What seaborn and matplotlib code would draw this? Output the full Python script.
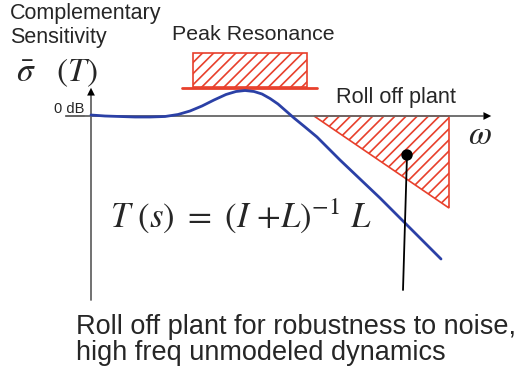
import matplotlib
matplotlib.use('Agg')
import matplotlib.pyplot as plt
import seaborn as sns
import pandas as pd
from matplotlib.patches import Rectangle, Polygon, Circle

# blue T(s) curve (pixel space, y down)
curve_x = [91, 105, 120, 135, 150, 165, 178, 190, 202, 214, 226, 236, 245, 254, 262, 270, 278, 286, 294, 305, 317, 340, 380, 410, 441]
curve_y = [115, 116, 116.5, 117, 117, 116.5, 114.5, 111, 106, 100, 94.5, 91.5, 90.5, 91.5, 94, 98.5, 104, 111, 118, 127, 137, 160, 198, 228, 259]

peak_box = [193, 53, 307, 87]          # x0, y0, x1, y1
peak_line = [182, 317, 88]
rolloff_tri_x = [314, 449, 449]
rolloff_tri_y = [116, 116, 208]

red = '#E8402C'
blue = '#2B40A6'
grey = '#666666'

sns.set_theme(style='white')
plt.rcParams['font.family'] = ['Liberation Sans', 'DejaVu Sans']
plt.rcParams['mathtext.fontset'] = 'stix'
plt.rcParams['hatch.linewidth'] = 1.2
plt.rcParams['hatch.color'] = red

fig = plt.figure(figsize=(5.26, 3.73), dpi=100)
ax = fig.add_axes([0, 0, 1, 1])

# axes with arrows
ax.plot([91, 91], [300, 95], color=grey, lw=1.3)
ax.annotate('', xy=(91, 85), xytext=(91, 97),
            arrowprops=dict(arrowstyle='-|>', color='black', lw=0, mutation_scale=14))
ax.plot([66, 483], [116, 116], color=grey, lw=1.3)
ax.annotate('', xy=(494, 116), xytext=(482, 116),
            arrowprops=dict(arrowstyle='-|>', color='black', lw=0, mutation_scale=14))

# peak resonance box
ax.add_patch(Rectangle((peak_box[0], peak_box[1]), peak_box[2] - peak_box[0], peak_box[3] - peak_box[1],
                       facecolor='white', edgecolor=red, hatch='///', lw=1.2))
ax.plot(peak_line[:2], [peak_line[2]] * 2, color=red, lw=2)

# roll-off triangle
ax.add_patch(Polygon(list(zip(rolloff_tri_x, rolloff_tri_y)), closed=True,
                     facecolor='white', edgecolor=red, hatch='///', lw=1.2))

# curve
df = pd.DataFrame({'x': curve_x, 'y': curve_y})
sns.lineplot(data=df, x='x', y='y', sort=False, color=blue, lw=2, ax=ax)
ax.set_xlim(0, 526)
ax.set_ylim(373, 0)
ax.axis('off')

# pointer
ax.plot([407, 403], [155, 290], color='black', lw=1.3)
ax.add_patch(Circle((407, 155), 5, color='black'))

# texts
ax.text(10, 13, 'Complementary', fontsize=15.5, va='center', ha='left')
ax.text(10, 38, 'Sensitivity', fontsize=15.5, va='center', ha='left')
ax.text(16, 73, r'$\bar{\sigma}\ \ \ (T)$', fontsize=24, va='center', ha='left')
ax.text(54, 109, '0 dB', fontsize=10.5, va='center', ha='left')
ax.plot([66, 84], [116, 116], color=grey, lw=1.3)
ax.text(172, 35, 'Peak Resonance', fontsize=15.4, va='center', ha='left')
ax.text(336, 98, 'Roll off plant', fontsize=15.6, va='center', ha='left')
ax.text(468, 135, r'$\omega$', fontsize=24, va='center', ha='left')
ax.text(110, 216, r'$T\ (s)\ =\ (I\ {+}L)^{-1}\ L$', fontsize=25, va='center', ha='left')
ax.text(76, 327, 'Roll off plant for robustness to noise,', fontsize=19.5, va='center', ha='left')
ax.text(76, 353, 'high freq unmodeled dynamics', fontsize=19.5, va='center', ha='left')

fig.savefig('out.png', dpi=100)
